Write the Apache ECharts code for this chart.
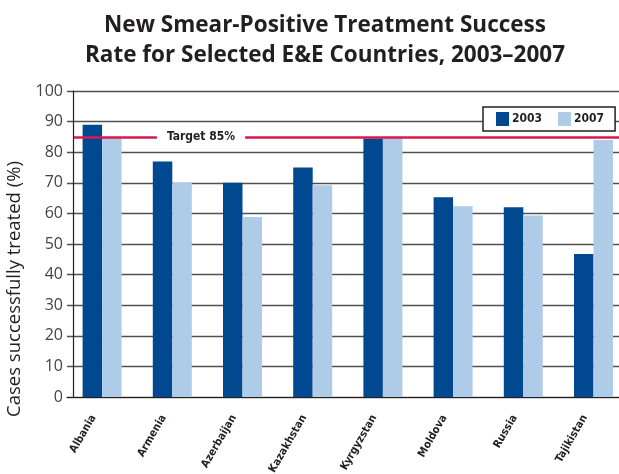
<!DOCTYPE html>
<html><head><meta charset="utf-8">
<script src="https://cdn.jsdelivr.net/npm/echarts@6/dist/echarts.min.js"></script>
<style>html,body{margin:0;padding:0;background:#fff}#c{width:619px;height:474px}</style>
</head><body><div id="c"></div>
<script>
const titleText = 'New Smear-Positive Treatment Success\nRate for Selected E&E Countries, 2003\u20132007';
const categories = ['Albania','Armenia','Azerbaijan','Kazakhstan','Kyrgyzstan','Moldova','Russia','Tajikistan'];
const values2003 = [89, 77, 70, 75, 84.5, 65.3, 62, 46.7];
const values2007 = [85, 70, 58.8, 69.2, 85, 62.3, 59.3, 84];
const seriesNames = ['2003','2007'];
const targetValue = 85;
const targetLabel = 'Target 85%';
const yTicks = [0,10,20,30,40,50,60,70,80,90,100];

const narrow = "'DejaVu Sans Condensed', 'Roboto Condensed', 'Liberation Sans Narrow', sans-serif";

const chart = echarts.init(document.getElementById('c'));
chart.setOption({
  backgroundColor: '#fff',
  animation: false,
  title: {
    text: titleText, left: 320, top: 6, textAlign: 'center',
    textStyle: { fontFamily: 'Open Sans', fontWeight: 'bold', fontSize: 22.5, lineHeight: 30, color: '#231f20' }
  },
  legend: {
    data: seriesNames, left: 483, top: 107, width: 140, orient: 'horizontal',
    padding: [5, 11, 5, 13], itemGap: 16, itemWidth: 13, itemHeight: 14,
    backgroundColor: '#fff', borderColor: '#231f20', borderWidth: 1.5, borderRadius: 0,
    icon: 'rect',
    textStyle: { fontFamily: narrow, fontSize: 12, fontWeight: 'bold', color: '#231f20', padding: [0,0,0,-2] }
  },
  grid: { left: 67, top: 91, width: 561.6, height: 306, containLabel: false, outerBoundsMode: 'none' },
  xAxis: {
    type: 'category', data: categories,
    axisLine: { show: true, lineStyle: { color: '#231f20', width: 1.2 } },
    axisTick: { show: false },
    axisLabel: {
      rotate: 60, interval: 0, margin: 4,
      fontFamily: narrow, fontSize: 11, fontWeight: 'bold', color: '#231f20',
      padding: [0, 17, 49, 0]
    }
  },
  yAxis: {
    type: 'value', min: 0, max: 100, interval: 10, offset: -6,
    name: 'Cases successfully treated (%)', nameLocation: 'middle', nameGap: 33,
    nameTextStyle: { fontFamily: 'Open Sans', fontSize: 18.5, color: '#231f20', fontWeight: 500, padding: [0, 90, 0, 0] },
    axisLine: { show: true, lineStyle: { color: '#231f20', width: 1.2 } },
    axisTick: { show: false },
    axisLabel: {
      margin: 10, fontFamily: 'Open Sans', fontSize: 16, color: '#444',
      formatter: v => yTicks.includes(v) ? String(v) : ''
    },
    splitLine: { show: true, lineStyle: { color: '#505050', width: 1.3 } }
  },
  series: [
    {
      name: seriesNames[0], type: 'bar', data: values2003, barWidth: 19.5, barGap: '0%',
      itemStyle: { color: '#004990' },
      z: 3,
      markLine: {
        silent: true, symbol: 'none', z: 4,
        lineStyle: { color: '#d7194b', width: 2.5, type: 'solid' },
        data: [
          [ { x: 74, yAxis: targetValue, label: { show: true, position: 'middle', formatter: targetLabel } },
            { x: 328, yAxis: targetValue } ],
          [ { x: 328, yAxis: targetValue, label: { show: false } },
            { x: 619, yAxis: targetValue } ]
        ],
        label: {
          fontFamily: narrow, fontSize: 12, fontWeight: 'bold', color: '#231f20', distance: 0, verticalAlign: 'middle',
          backgroundColor: '#fff', padding: [2, 10, 2, 10]
        }
      }
    },
    {
      name: seriesNames[1], type: 'bar', data: values2007, barWidth: 19.5, barGap: '0%',
      itemStyle: { color: '#aecbe8' }, z: 3
    }
  ]
});
</script>
</body></html>
